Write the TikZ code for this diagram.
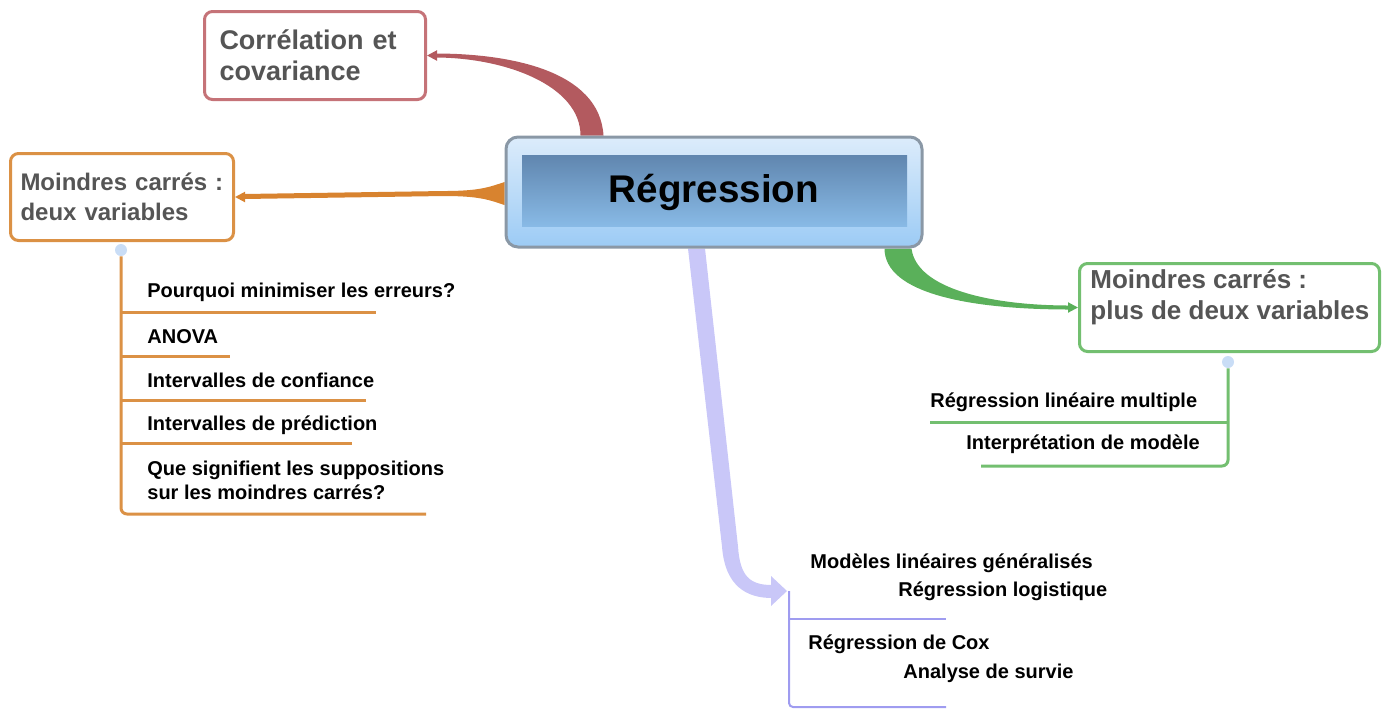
\documentclass[tikz,border=0pt]{standalone}
\usepackage{fontspec}
\setmainfont{Liberation Sans}
\usetikzlibrary{calc,arrows.meta,backgrounds}
\definecolor{redc}{HTML}{B35A5F}
\definecolor{redl}{HTML}{C57378}
\definecolor{orgc}{HTML}{D8832F}
\definecolor{orgl}{HTML}{DB9145}
\definecolor{grnc}{HTML}{5AB05A}
\definecolor{grnl}{HTML}{73BF70}
\definecolor{purc}{HTML}{C9C7F8}
\definecolor{purl}{HTML}{9F9CF0}
\definecolor{headgray}{HTML}{555555}
\definecolor{dotblue}{HTML}{C9DDF6}
\definecolor{mainedge}{HTML}{8A98A6}
\definecolor{maintop}{HTML}{DCECFB}
\definecolor{mainbot}{HTML}{9CCBF5}
\definecolor{innertop}{HTML}{5679A1}
\definecolor{innerbot}{HTML}{94C9F6}
\tikzset{
  mainbox/.style={draw=mainedge, line width=1.5pt, rounded corners=6pt,
    top color=maintop, bottom color=mainbot, minimum width=208pt, minimum height=55pt,
    font=\bfseries\fontsize{19.3}{22}\selectfont,
    path picture={\shade[sharp corners, top color=innertop, bottom color=innerbot]
      ($(path picture bounding box.north west)+(8pt,-9pt)$) rectangle
      ($(path picture bounding box.south east)+(-7.5pt,10.5pt)$);}},
  topic/.style={draw, line width=1.5pt, rounded corners=4pt, fill=white, align=left,
    text=headgray, anchor=north west},
  headtext/.style={align=left, text=headgray, inner sep=0pt,
    font=\bfseries\fontsize{13}{15.5}\selectfont},
  sub/.style={anchor=west, inner sep=0pt, align=left, font=\bfseries\fontsize{10}{12}\selectfont},
  dot/.style={circle, fill=dotblue, minimum size=6pt, inner sep=0pt},
  tip/.style={line width=1pt, -{Triangle[length=5pt,width=5pt]}}
}
\begin{document}
\begin{tikzpicture}[x=0.5pt,y=-0.5pt]
\useasboundingbox (0,0) rectangle (1385,709);

% centre and boxes
\node[mainbox] (reg) at (714,192) {Régression};
\node[topic, draw=redl, minimum width=110.5pt, minimum height=44pt, text width=95.5pt, inner xsep=7.5pt,
  font=\bfseries\fontsize{13.5}{15.5}\selectfont] (cor) at (203,10) {Corrélation et\\covariance};
\node[topic, draw=orgl, minimum width=111.5pt, minimum height=43.5pt, text width=101.5pt, inner xsep=5pt,
  font=\bfseries\fontsize{12}{15}\selectfont] (deux) at (9,152) {Moindres carrés :\\deux variables};
\node[topic, draw=grnl, minimum width=150pt, minimum height=44pt] (plus) at (1078,262) {};
\node[headtext, anchor=west] (plustxt) at (1090,297) {Moindres carrés :\\plus de deux variables};

% tapered branches
\begin{scope}[on background layer]
\fill[redc] ($(reg.north west)+(99,0)$) .. controls +(-4,-65) and +(75,0) .. ($(cor.east)+(8,-2)$)
  -- ($(cor.east)+(8,2)$) .. controls +(70,0) and +(0,-50) .. ($(reg.north west)+(76,0)$) -- cycle;
\draw[redc, tip] ($(cor.east)+(12,0)$) -- (cor.east);

\fill[orgc] ($(reg.west)+(0,-10)$) .. controls +(-15,5) and +(35,0) .. ($(reg.west)+(-60,-1)$)
  -- ($(deux.east)+(8,-3)$) -- ($(deux.east)+(8,2)$) -- ($(reg.west)+(-60,4)$)
  .. controls +(35,0) and +(-15,-5) .. ($(reg.west)+(0,13)$) -- cycle;
\draw[orgc, tip] ($(deux.east)+(12,0)$) -- (deux.east);

\fill[grnc] ($(reg.south east)+(-12,0)$) .. controls +(5,40) and +(-80,0) .. ($(plus.west)+(-8,-2)$)
  -- ($(plus.west)+(-8,2)$) .. controls +(-100,0) and +(0,45) .. ($(reg.south east)+(-39,0)$) -- cycle;
\draw[grnc, tip] ($(plus.west)+(-12,0)$) -- (plus.west);

\coordinate (gtip) at (789,591);
\fill[purc] ($(reg.south)+(-26,0)$) -- ($(reg.south)+(8,298)$) .. controls +(3,40) and +(-25,0) .. ($(gtip)+(-17,7)$)
  -- ($(gtip)+(-17,-6)$) .. controls +(-22,0) and +(2,30) .. ($(reg.south)+(24,298)$)
  -- ($(reg.south)+(-9,0)$) -- cycle;
\fill[purc] ($(gtip)+(-2,0)$) -- ($(gtip)+(-18,-15)$) -- ($(gtip)+(-18,15)$) -- cycle;
\end{scope}

% orange sub-branch
\node[dot] (odot) at (121,250) {};
\draw[orgl, line width=1.5pt, rounded corners=3pt] (odot) -- (121,514) -- (426,514);
\foreach \y/\e in {312/376,356/230,400/366,443/352}
  \draw[orgl, line width=1.5pt] (121,\y) -- (\e,\y);
\node[sub] (pmin) at (147,292) {Pourquoi minimiser les erreurs?};
\node[sub] (anova) at (147,337) {ANOVA};
\node[sub] (iconf) at (147,380) {Intervalles de confiance};
\node[sub] (ipred) at (147,425) {Intervalles de prédiction};
\node[sub] (supp) at (147,480) {Que signifient les suppositions\\sur les moindres carrés?};

% green sub-branch
\node[dot] (gdot) at (1228,362) {};
\draw[grnl, line width=1.5pt, rounded corners=3pt] (gdot) -- (1228,466) -- (981,466);
\draw[grnl, line width=1.5pt] (1228,422) -- (930,422);
\node[sub] (rlm) at (930,402) {Régression linéaire multiple};
\node[sub] (interp) at (966,444) {Interprétation de modèle};

% purple sub-branch
\draw[purl, line width=1pt, rounded corners=2pt] (gtip) -- (789,707) -- (946,707);
\draw[purl, line width=1pt] (789,619) -- (946,619);
\node[sub] (glm) at (810,563) {Modèles linéaires généralisés};
\node[sub] (logit) at (898,591) {Régression logistique};
\node[sub] (cox) at (808,644) {Régression de Cox};
\node[sub] (survie) at (903,673) {Analyse de survie};

\end{tikzpicture}
\end{document}
